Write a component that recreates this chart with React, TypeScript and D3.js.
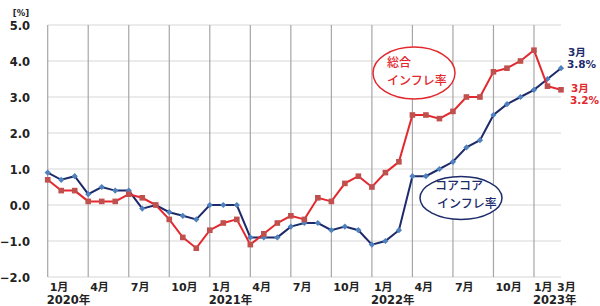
import React from 'react'
import * as d3 from 'd3'

const months = d3.range(39) // Jan 2020 .. Mar 2023
const headline = [
  0.7, 0.4, 0.4, 0.1, 0.1, 0.1, 0.3, 0.2, 0.0, -0.4, -0.9, -1.2,
  -0.7, -0.5, -0.4, -1.1, -0.8, -0.5, -0.3, -0.4, 0.2, 0.1, 0.6, 0.8,
  0.5, 0.9, 1.2, 2.5, 2.5, 2.4, 2.6, 3.0, 3.0, 3.7, 3.8, 4.0,
  4.3, 3.3, 3.2,
]
const coreCore = [
  0.9, 0.7, 0.8, 0.3, 0.5, 0.4, 0.4, -0.1, 0.0, -0.2, -0.3, -0.4,
  0.0, 0.0, 0.0, -0.9, -0.9, -0.9, -0.6, -0.5, -0.5, -0.7, -0.6, -0.7,
  -1.1, -1.0, -0.7, 0.8, 0.8, 1.0, 1.2, 1.6, 1.8, 2.5, 2.8, 3.0,
  3.2, 3.5, 3.8,
]
const yTicks = [-2, -1, 0, 1, 2, 3, 4, 5]
const quarterIdx = [0, 3, 6, 9, 12, 15, 18, 21, 24, 27, 30, 33, 36]
const monthTickIdx = [0, 3, 6, 9, 12, 15, 18, 21, 24, 27, 30, 33, 36, 38]
const monthTickLabels = ['1月', '4月', '7月', '10月', '1月', '4月', '7月', '10月', '1月', '4月', '7月', '10月', '1月', '3月']
const yearIdx = [0, 12, 24, 36]
const yearLabels = ['2020年', '2021年', '2022年', '2023年']

const RED = '#e3282e'
const RED_MK = '#c0504d'
const NAVY = '#1d2b6b'
const BLUE_MK = '#4f81bd'
const FONT = '"DejaVu Sans", "Noto Sans CJK JP", sans-serif'
const JP = '"Noto Sans CJK JP", sans-serif'

export default function App() {
  const x = d3.scaleLinear().domain([0, months.length - 1]).range([47.7, 561])
  const y = d3.scaleLinear().domain([-2, 5]).range([277, 25])

  const line = d3.line<number>()
    .x((_, i) => x(i))
    .y(d => y(d))

  const last = months.length - 1

  return (
    <svg width={600} height={306} style={{ position: 'absolute', left: 0, top: 0 }}>
      <rect width={600} height={306} fill="#fff" />
      {/* horizontal grid */}
      {yTicks.map(t => (
        <line key={'h' + t} x1={x(0)} x2={x(last)} y1={y(t)} y2={y(t)} stroke="#e4e4e4" strokeWidth={1.5} />
      ))}
      {/* vertical quarter lines */}
      {quarterIdx.map(i => (
        <line key={'v' + i} x1={x(i)} x2={x(i)} y1={y(5)} y2={y(-2)} stroke="#a6a6a6" strokeWidth={1.2} />
      ))}
      {/* y axis labels */}
      {yTicks.map(t => (
        <text key={'yl' + t} x={30} y={y(t) + 4.5} textAnchor="end" fontFamily={FONT} fontWeight="bold" fontSize={11.5} fill="#222">
          {d3.format('.1f')(t)}
        </text>
      ))}
      <text x={21} y={16} textAnchor="middle" fontFamily={FONT} fontWeight="bold" fontSize={8.5} fill="#222">[%]</text>
      {/* x axis labels */}
      {monthTickIdx.map((i, k) => (
        <text key={'m' + k} x={i === last ? x(i) - 4 : i === 36 ? x(i) : x(i) + 2} y={291} fontFamily={FONT} fontWeight="bold" fontSize={11} fill="#222">
          {monthTickLabels[k]}
        </text>
      ))}
      {yearIdx.map((i, k) => (
        <text key={'yr' + k} x={x(i) - 1} y={304} fontFamily={FONT} fontWeight="bold" fontSize={11.5} fill="#222">
          {yearLabels[k]}
        </text>
      ))}
      {/* core-core line */}
      <path d={line(coreCore) ?? ''} fill="none" stroke={NAVY} strokeWidth={2} />
      {coreCore.map((v, i) => (
        <rect key={'b' + i} x={x(i) - 2.2} y={y(v) - 2.2} width={4.4} height={4.4} fill={BLUE_MK}
          transform={`rotate(45 ${x(i)} ${y(v)})`} />
      ))}
      {/* headline line */}
      <path d={line(headline) ?? ''} fill="none" stroke={RED} strokeWidth={2} />
      {headline.map((v, i) => (
        <rect key={'r' + i} x={x(i) - 2.8} y={y(v) - 2.8} width={5.6} height={5.6} fill={RED_MK} />
      ))}
      {/* annotations */}
      <ellipse cx={414} cy={73} rx={41} ry={26} fill="#fff" stroke={RED} strokeWidth={1.5} />
      <text x={387} y={67} fontFamily={JP} fontWeight={500} fontSize={12} fill={RED}>総合</text>
      <text x={387} y={85} fontFamily={JP} fontWeight={500} fontSize={12} fill={RED}>インフレ率</text>
      <ellipse cx={461} cy={198} rx={41} ry={21.5} fill="#fff" stroke={NAVY} strokeWidth={1.5} />
      <text x={435} y={190} fontFamily={JP} fontWeight={500} fontSize={12} fill={NAVY}>コアコア</text>
      <text x={437} y={208} fontFamily={JP} fontWeight={500} fontSize={12} fill={NAVY}>インフレ率</text>
      <text x={568} y={56} fontFamily={FONT} fontWeight="bold" fontSize={10.5} fill={NAVY}>3月</text>
      <text x={567} y={68} fontFamily={FONT} fontWeight="bold" fontSize={10.5} fill={NAVY}>3.8%</text>
      <text x={571} y={92} fontFamily={FONT} fontWeight="bold" fontSize={10.5} fill={RED}>3月</text>
      <text x={570} y={104} fontFamily={FONT} fontWeight="bold" fontSize={10.5} fill={RED}>3.2%</text>
    </svg>
  )
}
